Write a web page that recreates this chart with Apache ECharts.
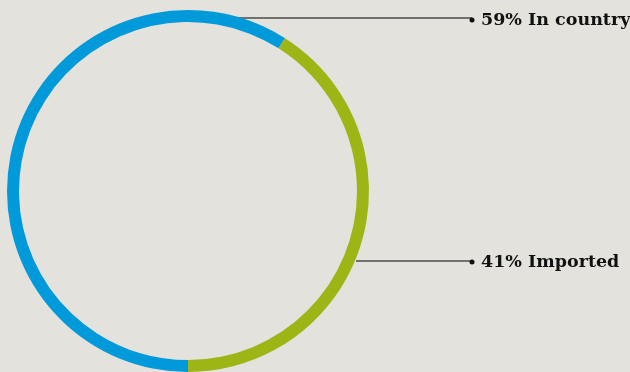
<!DOCTYPE html>
<html><head><meta charset="utf-8">
<script src="https://cdn.jsdelivr.net/npm/echarts@6/dist/echarts.min.js"></script>
<style>html,body{margin:0;padding:0;background:#e3e2dd;}#c{width:630px;height:372px;}</style>
</head><body><div id="c"></div>
<script>
var categories = ['In country', 'Imported'];
var values = [59, 41];
var colors = ['#0099d9', '#9db515'];

var chart = echarts.init(document.getElementById('c'), null, {renderer: 'canvas'});
var linePts = [
  [[239, 18], [239, 18], [472, 18]],
  [[356, 261], [356, 261], [472, 261]]
];
var labelPos = [[469.5, 20], [469.5, 262]];
chart.setOption({
  backgroundColor: '#e3e2dd',
  animation: false,
  series: [{
    type: 'pie',
    center: [188, 191],
    radius: [169, 181],
    startAngle: 270,
    clockwise: true,
    silent: true,
    avoidLabelOverlap: false,
    data: categories.map(function (c, i) {
      return {name: c, value: values[i], itemStyle: {color: colors[i]}};
    }),
    label: {
      show: true,
      overflow: 'none',
      formatter: function (p) { return '{d|}{t|' + p.value + '% ' + p.name + '}'; },
      rich: {
        d: {width: 5, height: 5, borderRadius: 3, backgroundColor: '#111'},
        t: {fontFamily: 'DejaVu Serif', fontWeight: 'bold', fontSize: 17.5, color: '#111', padding: [0, 0, 0, 6.5]}
      }
    },
    labelLine: {show: true, lineStyle: {color: '#4a4a4a', width: 1.5}},
    labelLayout: function (params) {
      var i = params.dataIndex;
      return {
        x: labelPos[i][0], y: labelPos[i][1],
        align: 'left', verticalAlign: 'middle',
        hideOverlap: false,
        labelLinePoints: linePts[i]
      };
    }
  }]
});
</script></body></html>
